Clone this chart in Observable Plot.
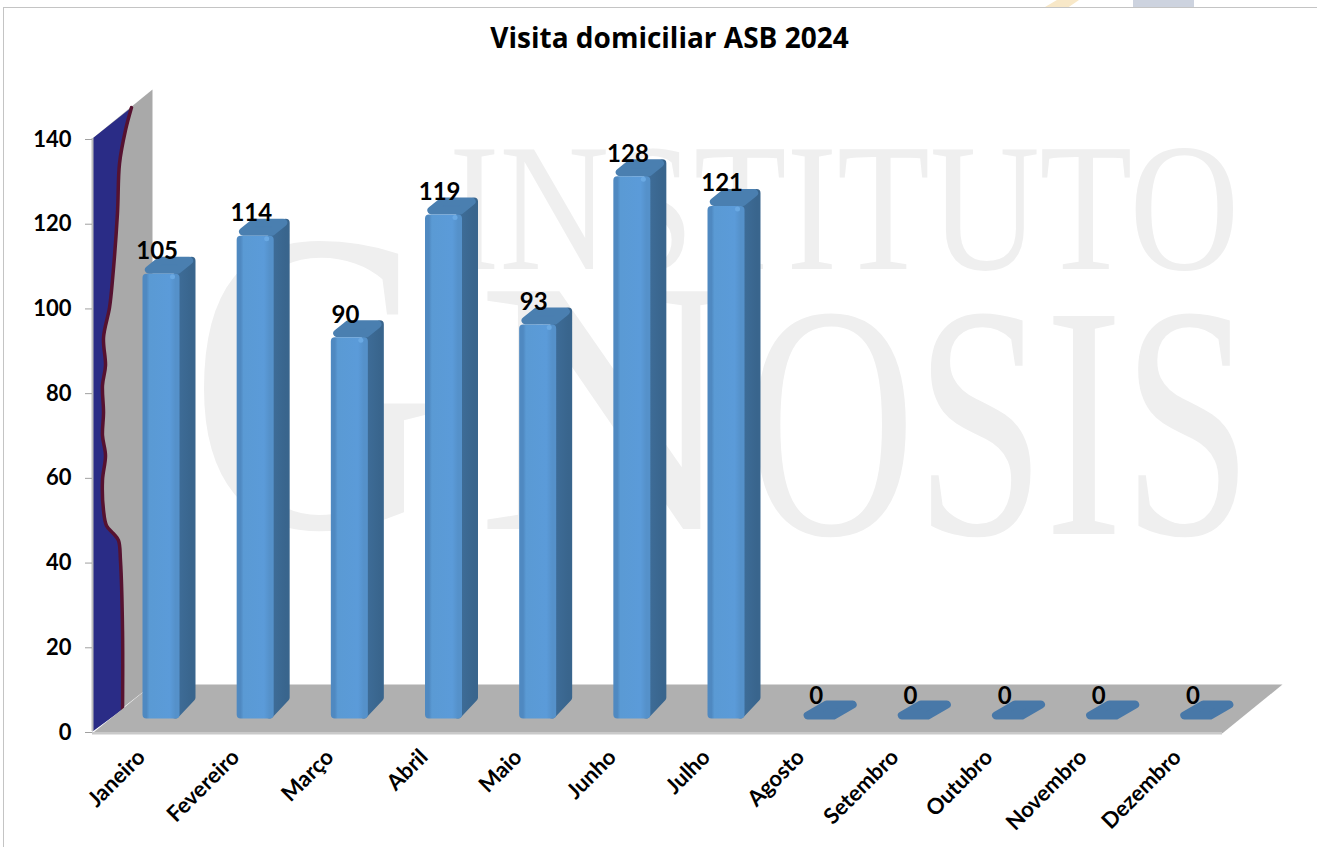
<!DOCTYPE html>
<html>
<head>
<meta charset="utf-8">
<script src="https://cdn.jsdelivr.net/npm/d3@7"></script>
<script src="https://cdn.jsdelivr.net/npm/@observablehq/plot@0.6"></script>
<style>
html,body{margin:0;padding:0;background:#fff;overflow:hidden}
#page{position:relative;width:1317px;height:847px;overflow:hidden;font-family:Lato,sans-serif}
#frame{position:absolute;left:3px;top:7px;width:1320px;height:850px;border:1.5px solid #c4c4c4;box-sizing:border-box}
.frag{position:absolute;top:0;height:7px}
.wm{position:absolute;font-family:"Liberation Serif",serif;color:#efefef;line-height:1;white-space:nowrap;transform-origin:0 0}
#title{position:absolute;left:0;top:18px;width:1339px;text-align:center;font:bold 28px "Open Sans",sans-serif;color:#000}
#chart{position:absolute;left:0;top:70px}
#chart svg{overflow:visible;background:transparent}
</style>
</head>
<body>
<div id="page">
  <div class="frag" style="left:1045px;width:34px;background:#f8e8c8;clip-path:polygon(35% 0,100% 0,70% 100%,0 100%)"></div>
  <div class="frag" style="left:1133px;width:61px;background:#cdd3df"></div>
  <div id="frame"></div>
  <div class="wm" style="left:449px;top:116px;font-size:183px;transform:scaleX(.83)">INSTITUTO</div>
  <div class="wm" style="left:190px;top:165px;font-size:432px;transform:scaleX(.79)">G</div>
  <div class="wm" style="left:477px;top:226px;font-size:363px">N</div>
  <div class="wm" style="left:747px;top:255px;font-size:333px;transform:scaleX(.70)">OSIS</div>
  <svg width="0" height="0" style="position:absolute">
    <defs>
      <linearGradient id="barFront" x1="0" x2="1" y1="0" y2="0">
        <stop offset="0" stop-color="#4f89c1"/>
        <stop offset="0.10" stop-color="#5a9ad4"/>
        <stop offset="0.80" stop-color="#5b9bd9"/>
        <stop offset="1" stop-color="#5591ca"/>
      </linearGradient>
      <linearGradient id="barSide" x1="0" x2="1" y1="0" y2="0">
        <stop offset="0" stop-color="#3f6e9a"/>
        <stop offset="1" stop-color="#39658d"/>
      </linearGradient>
    </defs>
  </svg>
  <div id="title">Visita domiciliar ASB 2024</div>
  <div id="chart"></div>
</div>
<script>
const months = ["Janeiro","Fevereiro","Março","Abril","Maio","Junho","Julho","Agosto","Setembro","Outubro","Novembro","Dezembro"];
const visits = [105,114,90,119,93,128,121,0,0,0,0,0];
const yTicks = [0,20,40,60,80,100,120,140];

// the wavy edge of the blue wall fill
const wallCurveX = [0.414,0.350,0.287,0.265,0.212,0.181,0.117,0.138,0.106,0.117,0.106,0.138,0.106,0.117,0.149,0.223,0.276,0.297,0.319,0.319];
const wallCurveY = [147.3,141.9,134.1,122.3,106.5,100.1,93.0,86.4,81.7,75.3,69.9,65.2,59.3,52.2,48.6,46.7,45.1,40.4,23.8,5.2];

const W = 1317, H = 777;
const pxX = 1130/12, pxY = 593/140;      // pixels per unit on each axis
const wallDX = 60/pxX, wallDY = 47/pxY;  // depth of the floor and wall
const barLeft = 0.531, barW = 37/pxX;
const barBase = 13/pxY, barDX = 16/pxX, barDY = 17/pxY;
const r = 4;                             // half of the rounding stroke, in px
const rx = r/pxX, ry = r/pxY;

const poly = (id, pts) => pts.map(([x,y]) => ({id,x,y}));

const wall = poly("wall", [[0,0],[0,140],[wallDX,140+wallDY+2/pxY],[wallDX,wallDY]]);
const floor = poly("floor", [[0,-0.4],[12,-0.4],[12+wallDX,wallDY],[wallDX,wallDY]]);
const blue = poly("blue", [[0,0],[0,140]].concat(wallCurveX.map((x,i)=>[x,wallCurveY[i]])));

const sides = [], tops = [], flats = [], fronts = [], glints = [];
visits.forEach((v,i) => {
  const l = i + barLeft, R = l + barW, b = barBase, t = barBase + v;
  if (v > 0) {
    sides.push(...poly("s"+i, [[R-rx,b+ry],[R+barDX-rx,b+barDY+ry],[R+barDX-rx,t+barDY-ry],[R-rx,t-ry]]));
    fronts.push(...poly("f"+i, [[l+rx,b+ry],[R-rx,b+ry],[R-rx,t-ry],[l+rx,t-ry]]));
    glints.push({x:R-7/pxX, y:t-3/pxY});
    tops.push(...poly("t"+i, [[l+rx*1.6,t+ry],[R-rx*0.4,t+ry],[R+barDX-rx*1.6,t+barDY-ry],[l+barDX+rx*0.4,t+barDY-ry]]));
  } else {
    // an empty month leaves only its footprint on the floor
    flats.push(...poly("z"+i, [[l+6/pxX,t+3/pxY],[l+32/pxX,t+3/pxY],[l+51/pxX,t+14/pxY],[l+25/pxX,t+14/pxY]]));
  }
});

const labelData = visits.map((v,i) => ({x:i+barLeft+0.155, y:barBase+v+5.3, v}));

const round = {curve:"linear-closed", strokeWidth:2*r, strokeLinejoin:"round"};

const chart = Plot.plot({
  width: W, height: H,
  marginLeft: 92, marginRight: W-1222, marginTop: 68, marginBottom: H-661,
  style: {background:"transparent", overflow:"visible"},
  x: {type:"linear", domain:[0,12], label:null},
  y: {type:"linear", domain:[0,140], label:null},
  marks: [
    Plot.line(wall, {x:"x",y:"y",z:"id",curve:"linear-closed",fill:"#a9a9a9"}),
    Plot.line(blue, {x:"x",y:"y",z:"id",curve:"linear-closed",fill:"#2a2c86"}),
    Plot.line(wallCurveX.map((x,i)=>({x,y:wallCurveY[i]})), {x:"x",y:"y",curve:"catmull-rom",stroke:"#561230",strokeWidth:3.5}),
    Plot.line(floor, {x:"x",y:"y",z:"id",curve:"linear-closed",fill:"#b0b0b0"}),
    Plot.ruleY([-0.4], {x1:0,x2:12,stroke:"#c9c9c9",strokeWidth:2.5}),
    Plot.ruleX([0], {y1:0,y2:140,stroke:"#bdbdbd",strokeWidth:2}),
    Plot.line(flats, {x:"x",y:"y",z:"id",fill:"#4878a8",stroke:"#4878a8",...round}),
    Plot.line(sides, {x:"x",y:"y",z:"id",fill:"url(#barSide)",stroke:"url(#barSide)",...round}),
    Plot.line(tops, {x:"x",y:"y",z:"id",fill:"#4a7fb0",stroke:"#4a7fb0",...round}),
    Plot.line(fronts, {x:"x",y:"y",z:"id",fill:"url(#barFront)",stroke:"url(#barFront)",...round}),
    Plot.dot(glints, {x:"x",y:"y",r:2.5,fill:"#6aa9e3"}),
    Plot.axisY({ticks:yTicks, label:null, tickSize:7, tickPadding:14, stroke:"#a0a0a0", fill:"#000", fontSize:22, fontWeight:"bold", fontFamily:"Lato", dy:1, tickFormat:d=>d}),
    Plot.axisX({ticks:months.map((_,i)=>i+0.5), label:null, tickFormat:d=>months[Math.floor(d)], tickSize:0, tickPadding:22, tickRotate:-45, dx:2, fill:"#000", fontSize:22, fontWeight:"bold", fontFamily:"Lato"}),
    Plot.text(labelData, {x:"x",y:"y",text:"v",fill:"#000",fontSize:24,fontWeight:"bold",fontFamily:"Lato"})
  ]
});
document.getElementById("chart").appendChild(chart);
</script>
</body>
</html>
